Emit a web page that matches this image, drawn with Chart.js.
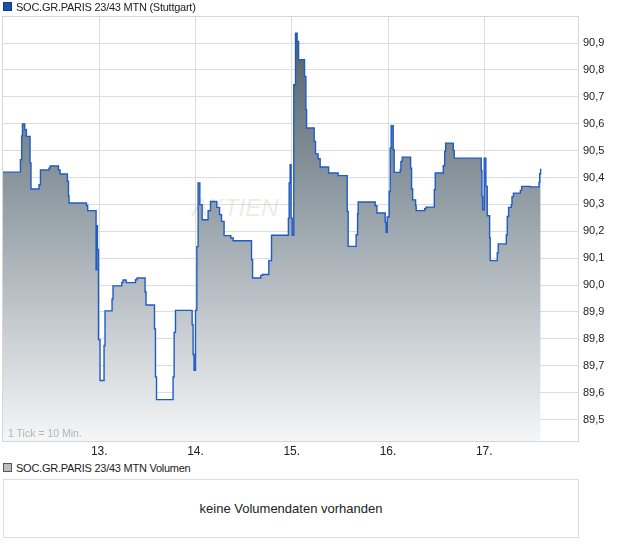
<!DOCTYPE html>
<html>
<head>
<meta charset="utf-8">
<script src="https://cdn.jsdelivr.net/npm/chart.js@4"></script>
<style>
  body { margin: 0; background: #fff; font-family: "Liberation Sans", Arial, sans-serif; color: #222; }
  #wrap { position: relative; width: 620px; height: 546px; }
  #main { position: absolute; left: 0; top: 0; width: 620px; height: 460px; }
  .legend { position: absolute; left: 3px; font-size: 11px; letter-spacing: -0.25px; line-height: 14px; white-space: nowrap; }
  .legend span.box { display: inline-block; width: 7px; height: 7px; margin-right: 4px; vertical-align: 0px; }
  #tick { position: absolute; left: 8px; top: 427px; font-size: 10.5px; color: #b4b4b4; }
  #vol { position: absolute; left: 3px; top: 479px; width: 574px; height: 57px; border: 1px solid #dcdcdc;
         font-size: 13px; text-align: center; line-height: 57px; }
</style>
</head>
<body>
<div id="wrap">
  <canvas id="main" width="620" height="460"></canvas>
  <div class="legend" style="top:0px"><span class="box" style="background:#1e4fa8;border:1px solid #163c80"></span>SOC.GR.PARIS 23/43 MTN (Stuttgart)</div>
  <div id="tick">1 Tick = 10 Min.</div>
  <div class="legend" style="top:461px"><span class="box" style="background:#bdbdbd;border:1px solid #555"></span>SOC.GR.PARIS 23/43 MTN Volumen</div>
  <div id="vol">keine Volumendaten vorhanden</div>
</div>
<script>
// time in days (13. = day 13 start), price in EUR
const days = [
  12.000, 12.181, 12.194, 12.202, 12.226, 12.243, 12.281, 12.291, 12.374, 12.389,
  12.478, 12.489, 12.576, 12.593, 12.669, 12.680, 12.686, 12.867, 12.880, 12.967,
  12.974, 12.981, 12.992, 13.008, 13.050, 13.060, 13.133, 13.143, 13.234, 13.247,
  13.279, 13.376, 13.393, 13.476, 13.486, 13.574, 13.584, 13.595, 13.767, 13.778,
  13.792, 13.965, 13.975, 13.985, 14.000, 14.014, 14.027, 14.045, 14.069, 14.131,
  14.156, 14.221, 14.250, 14.270, 14.297, 14.367, 14.391, 14.582, 14.593, 14.679,
  14.696, 14.762, 14.790, 14.965, 14.973, 14.983, 14.993, 15.005, 15.021, 15.039,
  15.056, 15.071, 15.133, 15.147, 15.154, 15.233, 15.247, 15.274, 15.295, 15.383,
  15.482, 15.576, 15.586, 15.669, 15.684, 15.690, 15.867, 15.885, 15.971, 15.981,
  15.992, 16.012, 16.023, 16.033, 16.054, 16.064, 16.127, 16.134, 16.148, 16.235,
  16.245, 16.256, 16.287, 16.293, 16.381, 16.394, 16.481, 16.491, 16.574, 16.589,
  16.599, 16.678, 16.688, 16.969, 16.976, 16.983, 17.000, 17.017, 17.031, 17.056,
  17.062, 17.135, 17.145, 17.229, 17.239, 17.253, 17.281, 17.288, 17.303, 17.375,
  17.389, 17.479, 17.569, 17.576, 17.586
];
const prices = [
  90.420, 90.466, 90.555, 90.599, 90.578, 90.553, 90.454, 90.357, 90.373, 90.428,
  90.435, 90.443, 90.428, 90.413, 90.386, 90.332, 90.305, 90.296, 90.277, 90.057,
  90.221, 90.132, 89.797, 89.645, 89.775, 89.904, 89.948, 89.997, 90.010, 90.019,
  90.009, 90.020, 90.026, 89.974, 89.926, 89.837, 89.658, 89.574, 89.658, 89.824,
  89.906, 89.853, 89.742, 89.683, 89.906, 90.143, 90.380, 90.299, 90.243, 90.277,
  90.311, 90.289, 90.262, 90.237, 90.184, 90.175, 90.165, 90.094, 90.026, 90.036,
  90.039, 90.091, 90.185, 90.249, 90.380, 90.448, 90.249, 90.185, 90.745, 90.937,
  90.906, 90.838, 90.776, 90.652, 90.584, 90.534, 90.488, 90.470, 90.439, 90.417,
  90.407, 90.274, 90.144, 90.187, 90.265, 90.309, 90.295, 90.268, 90.233, 90.196,
  90.253, 90.348, 90.510, 90.593, 90.503, 90.419, 90.429, 90.460, 90.476, 90.435,
  90.357, 90.317, 90.295, 90.277, 90.284, 90.290, 90.355, 90.417, 90.444, 90.497,
  90.528, 90.501, 90.472, 90.426, 90.330, 90.280, 90.472, 90.367, 90.258, 90.175,
  90.091, 90.119, 90.153, 90.187, 90.255, 90.289, 90.299, 90.328, 90.342, 90.352,
  90.367, 90.365, 90.382, 90.414, 90.433
];
const dayTicks = [13, 14, 15, 16, 17];
const priceTicks = [89.5, 89.6, 89.7, 89.8, 89.9, 90.0, 90.1, 90.2, 90.3, 90.4, 90.5, 90.6, 90.7, 90.8, 90.9];

const points = days.map((d, i) => ({ x: d, y: prices[i] }));

const frame = {
  id: 'frame',
  beforeDatasetsDraw(chart) {
    const ctx = chart.ctx;
    ctx.save();
    ctx.font = 'italic 24px "Liberation Sans", Arial, sans-serif';
    ctx.fillStyle = 'rgba(205,195,185,0.35)';
    ctx.fillText('AKTIEN', 192, 216);
    ctx.restore();
  },
  afterDraw(chart) {
    const a = chart.chartArea, ctx = chart.ctx;
    ctx.save();
    ctx.strokeStyle = '#d6d6d6';
    ctx.lineWidth = 1;
    ctx.strokeRect(a.left - 0.5, a.top - 0.5, a.right - a.left + 1, a.bottom - a.top + 1);
    ctx.restore();
  }
};

new Chart(document.getElementById('main'), {
  type: 'line',
  data: {
    datasets: [{
      data: points,
      stepped: true,
      borderColor: '#1f5bc8',
      borderWidth: 1.4,
      pointRadius: 0,
      fill: 'start',
      backgroundColor: ctx => {
        const a = ctx.chart.chartArea;
        if (!a) return '#999';
        const g = ctx.chart.ctx.createLinearGradient(0, a.top, 0, a.bottom);
        g.addColorStop(0, '#4a5b67');
        g.addColorStop(0.45, '#95a0a7');
        g.addColorStop(1, '#f5f6f7');
        return g;
      }
    }]
  },
  options: {
    responsive: false,
    animation: false,
    layout: { padding: { left: 3, top: 17, right: 0, bottom: 0 } },
    plugins: { legend: { display: false }, tooltip: { enabled: false } },
    scales: {
      x: {
        type: 'linear',
        min: 12,
        max: 17.974,
        afterFit: s => { s.height = 19; },
        afterBuildTicks: s => { s.ticks = dayTicks.map(v => ({ value: v })); },
        grid: { color: '#dcdcdc', drawTicks: false },
        border: { display: false },
        ticks: {
          padding: 3,
          color: '#222',
          font: { family: '"Liberation Sans", Arial, sans-serif', size: 12 },
          callback: v => v + '.'
        }
      },
      y: {
        position: 'right',
        min: 89.42,
        max: 90.997,
        afterFit: s => { s.width = 42; },
        afterBuildTicks: s => { s.ticks = priceTicks.map(v => ({ value: v })); },
        grid: { color: '#dcdcdc', drawTicks: false },
        border: { display: false },
        ticks: {
          padding: 5,
          crossAlign: 'near',
          color: '#222',
          font: { family: '"Liberation Sans", Arial, sans-serif', size: 11 },
          callback: v => v.toFixed(1).replace('.', ',')
        }
      }
    }
  },
  plugins: [frame]
});
</script>
</body>
</html>
